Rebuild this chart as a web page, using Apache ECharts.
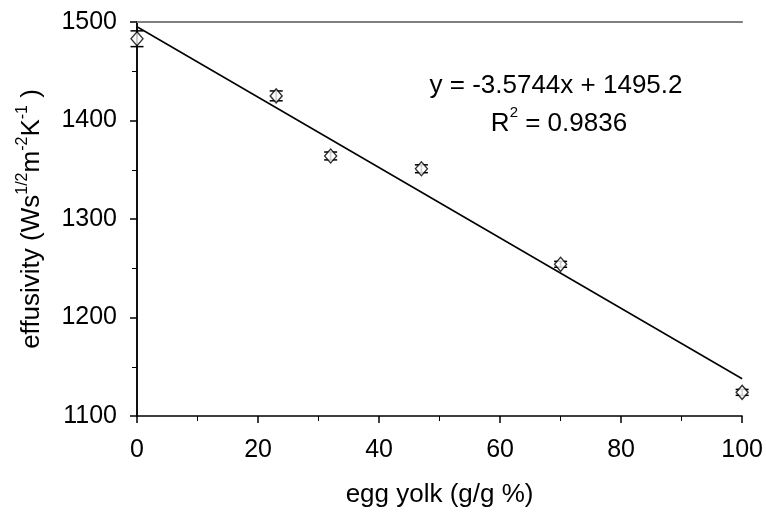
<!DOCTYPE html>
<html>
<head>
<meta charset="utf-8">
<script src="https://cdn.jsdelivr.net/npm/echarts@6/dist/echarts.min.js"></script>
<style>
  html, body { margin: 0; padding: 0; background: #fff; }
  #chart { width: 766px; height: 515px; }
</style>
</head>
<body>
<div id="chart"></div>
<script>
// measured points
var yolk = [0, 23, 32, 47, 70, 100];
var effusivity = [1483, 1425, 1364, 1351, 1254, 1124];
var errors = [8, 5, 4, 4, 3, 3];
// linear trend line, end points
var trendX = [0, 100];
var trendY = [1495.2, 1137.8];
var xTicks = [0, 20, 40, 60, 80, 100];
var yTicks = [1100, 1200, 1300, 1400, 1500];

var font = 'Liberation Sans, Arial, sans-serif';

var points = yolk.map(function (x, i) { return [x, effusivity[i]]; });
var bars = yolk.map(function (x, i) { return [x, effusivity[i] - errors[i], effusivity[i] + errors[i]]; });
var trend = trendX.map(function (x, i) { return [x, trendY[i]]; });

var chart = echarts.init(document.getElementById('chart'));
chart.setOption({
  animation: false,
  backgroundColor: '#fff',
  grid: { left: 137, right: 23, top: 22, bottom: 99 },
  xAxis: [{
    type: 'value', min: xTicks[0], max: xTicks[xTicks.length - 1], interval: 20,
    name: 'egg yolk (g/g %)', nameLocation: 'middle', nameGap: 66,
    nameTextStyle: { fontFamily: font, fontSize: 26, color: '#000' },
    axisLine: { lineStyle: { color: '#000', width: 1.5 } },
    axisTick: { length: 7, lineStyle: { color: '#000', width: 1.5 } },
    minorTick: { show: true, splitNumber: 2, length: 5, lineStyle: { color: '#000', width: 1 } },
    axisLabel: { fontFamily: font, fontSize: 25, color: '#000', margin: 22, formatter: function (v) { return String(v); } },
    splitLine: { show: false }
  }, {
    type: 'value', position: 'top', min: 0, max: 100,
    axisLine: { show: true, lineStyle: { color: '#808080', width: 2 } },
    axisTick: { show: false }, axisLabel: { show: false }, splitLine: { show: false }
  }],
  yAxis: [{
    type: 'value', min: yTicks[0], max: yTicks[yTicks.length - 1], interval: 100,
    name: '{t|effusivity (Ws}{s|1/2}{t|m}{s|-2}{t|K}{s|-1}{t| )}',
    nameLocation: 'middle', nameGap: 92, nameRotate: 90,
    nameTextStyle: {
      fontFamily: font, color: '#000',
      rich: {
        t: { fontFamily: font, fontSize: 26, color: '#000', lineHeight: 30, verticalAlign: 'bottom' },
        s: { fontFamily: font, fontSize: 16, color: '#000', lineHeight: 30, verticalAlign: 'top' }
      }
    },
    axisLine: { show: true, lineStyle: { color: '#000', width: 1.5 } },
    axisTick: { length: 7, lineStyle: { color: '#000', width: 1.5 } },
    minorTick: { show: true, splitNumber: 2, length: 5, lineStyle: { color: '#000', width: 1 } },
    axisLabel: { fontFamily: font, fontSize: 25, color: '#000', margin: 20, formatter: function (v) { return String(v); } },
    splitLine: { show: false }
  }, {
    type: 'value', position: 'right', min: 1100, max: 1500,
    axisLine: { show: true, lineStyle: { color: '#000', width: 1.5 } },
    axisTick: { show: false }, axisLabel: { show: false }, splitLine: { show: false }
  }],
  series: [{
    type: 'line', data: trend, symbol: 'none', silent: true,
    lineStyle: { color: '#000', width: 1.5 }, z: 2
  }, {
    type: 'custom', data: bars, z: 3,
    renderItem: function (params, api) {
      var x = api.value(0);
      var lo = api.coord([x, api.value(1)]);
      var hi = api.coord([x, api.value(2)]);
      var w = 6.5;
      var st = { stroke: '#000', lineWidth: 1.5 };
      return {
        type: 'group', children: [
          { type: 'line', shape: { x1: lo[0], y1: lo[1], x2: hi[0], y2: hi[1] }, style: st },
          { type: 'line', shape: { x1: lo[0] - w, y1: lo[1], x2: lo[0] + w, y2: lo[1] }, style: st },
          { type: 'line', shape: { x1: hi[0] - w, y1: hi[1], x2: hi[0] + w, y2: hi[1] }, style: st }
        ]
      };
    }
  }, {
    type: 'scatter', data: points, symbol: 'diamond', symbolSize: [12, 14], z: 4,
    itemStyle: { color: '#fff', borderColor: '#000', borderWidth: 1.4 }
  }],
  graphic: [{
    type: 'text', x: 556, y: 73,
    style: { text: 'y = -3.5744x + 1495.2', fontFamily: font, fontSize: 26, fill: '#000', textAlign: 'center' }
  }, {
    type: 'text', x: 559, y: 105,
    style: {
      text: '{t|R}{s|2}{t| = 0.9836}', fontFamily: font, fill: '#000', textAlign: 'center',
      rich: {
        t: { fontFamily: font, fontSize: 26, fill: '#000', lineHeight: 32, verticalAlign: 'bottom' },
        s: { fontFamily: font, fontSize: 15, fill: '#000', lineHeight: 32, verticalAlign: 'top' }
      }
    }
  }]
});
</script>
</body>
</html>
